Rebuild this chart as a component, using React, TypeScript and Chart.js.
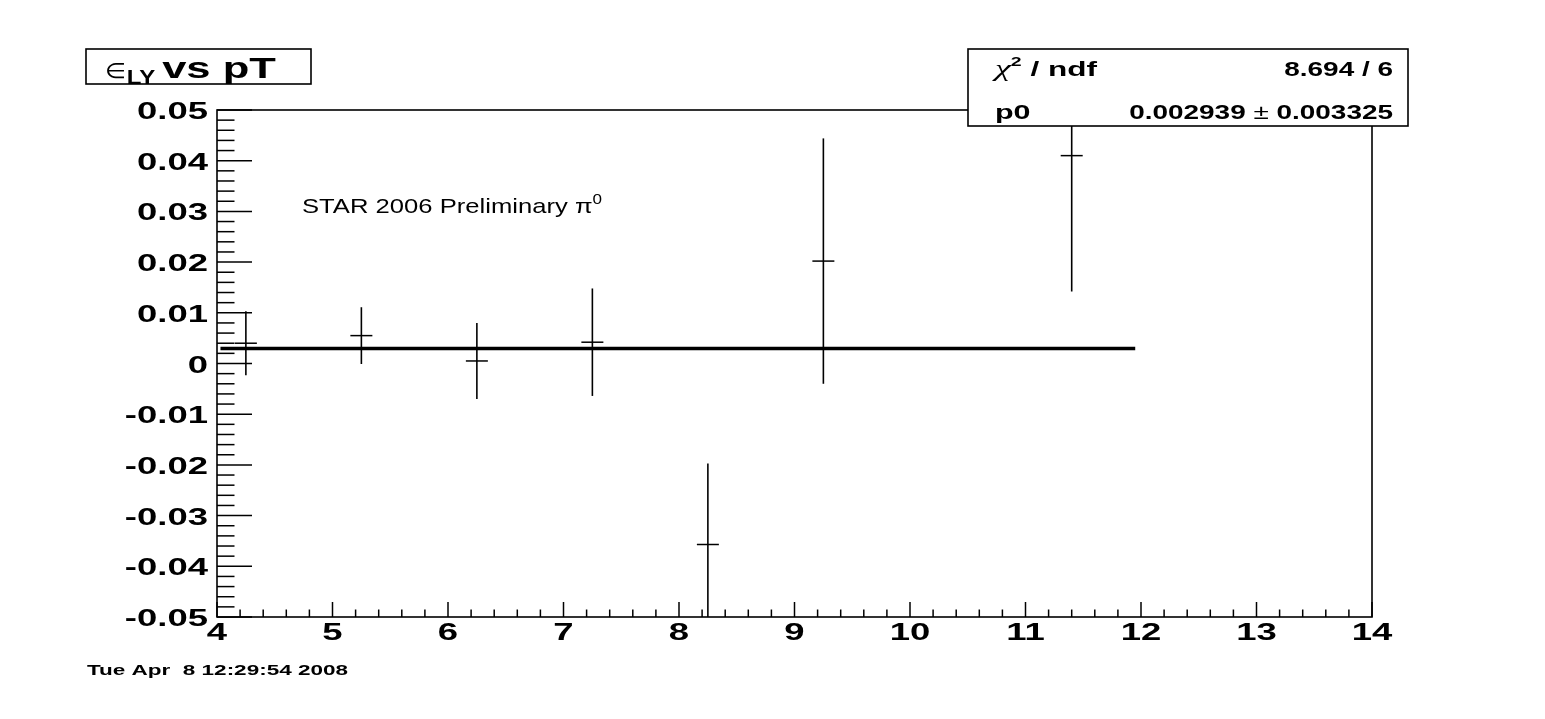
import React, { useEffect, useRef } from 'react';
import { Chart, registerables } from 'chart.js';

Chart.register(...registerables);

// ---- data ----
const pTValues = [4.25, 5.25, 6.25, 7.25, 8.25, 9.25, 11.4];
const epsilonLY = [0.004, 0.0055, 0.0005, 0.0042, -0.0357, 0.0202, 0.041];
const epsilonLYErr = [0.0063, 0.0056, 0.0075, 0.0106, 0.016, 0.0242, 0.0268];

const fitP0 = 0.002939;
const fitP0Err = 0.003325;
const fitChi2 = 8.694;
const fitNdf = 6;
const fitRange = [4.03, 11.95];

const xTickValues = [4, 5, 6, 7, 8, 9, 10, 11, 12, 13, 14];
const xTickLabels = ['4', '5', '6', '7', '8', '9', '10', '11', '12', '13', '14'];
const yTickValues = [0.05, 0.04, 0.03, 0.02, 0.01, 0, -0.01, -0.02, -0.03, -0.04, -0.05];
const yTickLabels = ['0.05', '0.04', '0.03', '0.02', '0.01', '0', '-0.01', '-0.02', '-0.03', '-0.04', '-0.05'];
const minorDivisions = 5;

const titleSymbol = '\u2208';
const titleSub = 'LY';
const titleRest = 'vs pT';
const annotationText = 'STAR 2006 Preliminary \u03c0';
const annotationSup = '0';
const footerText = 'Tue Apr  8 12:29:54 2008';

// ---- text helpers (ROOT output is horizontally stretched) ----
const FF = '"Liberation Sans", Arial, sans-serif';

type Part = { t: string; font: string; dy?: number; sx?: number; gap?: number };

function partWidth(ctx: CanvasRenderingContext2D, p: Part, sx: number) {
  ctx.font = p.font;
  return ctx.measureText(p.t).width * (p.sx ?? sx) + (p.gap || 0);
}

function drawParts(
  ctx: CanvasRenderingContext2D,
  parts: Part[],
  x: number,
  y: number,
  align: 'left' | 'right' | 'center',
  sx: number
) {
  let total = 0;
  for (const p of parts) total += partWidth(ctx, p, sx);
  let cx = x;
  if (align === 'right') cx = x - total;
  else if (align === 'center') cx = x - total / 2;
  for (const p of parts) {
    const s = p.sx ?? sx;
    cx += p.gap || 0;
    ctx.save();
    ctx.font = p.font;
    const w = ctx.measureText(p.t).width * s;
    ctx.translate(cx, y + (p.dy || 0));
    ctx.scale(s, 1);
    ctx.textAlign = 'left';
    ctx.textBaseline = 'alphabetic';
    ctx.fillStyle = '#000';
    ctx.fillText(p.t, 0, 0);
    ctx.restore();
    cx += w;
  }
}

const rootPlugin = {
  id: 'rootStyle',
  beforeDraw(chart: any) {
    const ctx = chart.ctx as CanvasRenderingContext2D;
    ctx.save();
    ctx.fillStyle = '#fff';
    ctx.fillRect(0, 0, chart.width, chart.height);
    ctx.restore();
  },
  afterDatasetsDraw(chart: any) {
    const ctx = chart.ctx as CanvasRenderingContext2D;
    const xs = chart.scales.x;
    const ys = chart.scales.y;
    const a = chart.chartArea;
    ctx.save();
    ctx.beginPath();
    ctx.rect(a.left, a.top, a.right - a.left, a.bottom - a.top);
    ctx.clip();
    ctx.strokeStyle = '#000';
    ctx.lineWidth = 1.6;
    for (let i = 0; i < pTValues.length; i++) {
      const px = xs.getPixelForValue(pTValues[i]);
      const y1 = ys.getPixelForValue(epsilonLY[i] + epsilonLYErr[i]);
      const y2 = ys.getPixelForValue(epsilonLY[i] - epsilonLYErr[i]);
      ctx.beginPath();
      ctx.moveTo(px, y1);
      ctx.lineTo(px, y2);
      ctx.stroke();
    }
    ctx.restore();
  },
  afterDraw(chart: any) {
    const ctx = chart.ctx as CanvasRenderingContext2D;
    const xs = chart.scales.x;
    const ys = chart.scales.y;
    const a = chart.chartArea;

    ctx.save();
    ctx.strokeStyle = '#000';
    ctx.lineWidth = 1.6;
    ctx.strokeRect(a.left, a.top, a.right - a.left, a.bottom - a.top);

    ctx.lineWidth = 1.5;
    const yMajorLen = 35;
    const yMinorLen = 17.5;
    for (let i = 0; i < yTickValues.length; i++) {
      const py = ys.getPixelForValue(yTickValues[i]);
      ctx.beginPath();
      ctx.moveTo(a.left, py);
      ctx.lineTo(a.left + yMajorLen, py);
      ctx.stroke();
      if (i < yTickValues.length - 1) {
        const step = (yTickValues[i + 1] - yTickValues[i]) / minorDivisions;
        for (let k = 1; k < minorDivisions; k++) {
          const my = ys.getPixelForValue(yTickValues[i] + step * k);
          ctx.beginPath();
          ctx.moveTo(a.left, my);
          ctx.lineTo(a.left + yMinorLen, my);
          ctx.stroke();
        }
      }
    }
    const xMajorLen = 15;
    const xMinorLen = 7.5;
    for (let i = 0; i < xTickValues.length; i++) {
      const px = xs.getPixelForValue(xTickValues[i]);
      ctx.beginPath();
      ctx.moveTo(px, a.bottom);
      ctx.lineTo(px, a.bottom - xMajorLen);
      ctx.stroke();
      if (i < xTickValues.length - 1) {
        const step = (xTickValues[i + 1] - xTickValues[i]) / minorDivisions;
        for (let k = 1; k < minorDivisions; k++) {
          const mx = xs.getPixelForValue(xTickValues[i] + step * k);
          ctx.beginPath();
          ctx.moveTo(mx, a.bottom);
          ctx.lineTo(mx, a.bottom - xMinorLen);
          ctx.stroke();
        }
      }
    }

    const tickFont = `bold 24px ${FF}`;
    for (let i = 0; i < yTickValues.length; i++) {
      const py = ys.getPixelForValue(yTickValues[i]);
      drawParts(ctx, [{ t: yTickLabels[i], font: tickFont }], a.left - 9, py + 9, 'right', 1.52);
    }
    for (let i = 0; i < xTickValues.length; i++) {
      const px = xs.getPixelForValue(xTickValues[i]);
      drawParts(ctx, [{ t: xTickLabels[i], font: tickFont }], px, a.bottom + 23, 'center', 1.52);
    }

    drawParts(
      ctx,
      [
        { t: annotationText, font: `21px ${FF}` },
        { t: annotationSup, font: `14px ${FF}`, dy: -9 },
      ],
      302,
      213,
      'left',
      1.22
    );

    drawParts(ctx, [{ t: footerText, font: `bold 15px ${FF}` }], 87, 675, 'left', 1.5);

    // title box
    ctx.fillStyle = '#fff';
    ctx.fillRect(86, 49, 225, 35);
    ctx.lineWidth = 1.6;
    ctx.strokeRect(86, 49, 225, 35);
    drawParts(
      ctx,
      [
        { t: titleSymbol, font: `21px ${FF}`, sx: 1.15 },
        { t: titleSub, font: `bold 20px ${FF}`, dy: 6, sx: 1.2, gap: 1 },
        { t: titleRest, font: `bold 29px ${FF}`, sx: 1.5, gap: 7 },
      ],
      105,
      78,
      'left',
      1.5
    );

    // stats box
    const bx = 968, by = 49, bw = 440, bh = 77;
    ctx.fillStyle = '#fff';
    ctx.fillRect(bx, by, bw, bh);
    ctx.lineWidth = 1.6;
    ctx.strokeRect(bx, by, bw, bh);
    const sFont = `bold 21px ${FF}`;
    drawParts(
      ctx,
      [
        { t: '\u03c7', font: `italic 24px "Liberation Serif", serif` },
        { t: '2', font: `bold 13px ${FF}`, dy: -10 },
        { t: ' / ndf', font: sFont },
      ],
      995,
      76,
      'left',
      1.5
    );
    drawParts(ctx, [{ t: `${fitChi2.toFixed(3)} / ${fitNdf}`, font: sFont }], 1393, 76, 'right', 1.33);
    drawParts(ctx, [{ t: 'p0', font: sFont }], 995, 119, 'left', 1.45);
    drawParts(
      ctx,
      [
        { t: fitP0.toFixed(6), font: sFont },
        { t: ' \u00b1 ', font: `21px ${FF}` },
        { t: fitP0Err.toFixed(6), font: sFont },
      ],
      1393,
      119,
      'right',
      1.33
    );
    ctx.restore();
  },
};

export default function App() {
  const ref = useRef<HTMLCanvasElement>(null);
  useEffect(() => {
    document.body.style.margin = '0';
    const canvas = ref.current;
    if (!canvas) return;
    const points = pTValues.map((x, i) => ({ x, y: epsilonLY[i] }));
    const fitLine = [
      { x: fitRange[0], y: fitP0 },
      { x: fitRange[1], y: fitP0 },
    ];
    const chart = new Chart(canvas, {
      type: 'scatter',
      data: {
        datasets: [
          {
            type: 'line',
            data: fitLine,
            borderColor: '#000',
            borderWidth: 3.5,
            pointRadius: 0,
            fill: false,
          } as any,
          {
            type: 'scatter',
            data: points,
            pointStyle: 'line',
            pointRadius: 11,
            pointHoverRadius: 11,
            borderColor: '#000',
            backgroundColor: '#000',
            borderWidth: 1.5,
            showLine: false,
          } as any,
        ],
      },
      options: {
        animation: false,
        responsive: false,
        devicePixelRatio: 1,
        events: [],
        layout: { padding: { left: 217, right: 173, top: 110, bottom: 102 } },
        scales: {
          x: { type: 'linear', min: 4, max: 14, display: false },
          y: { type: 'linear', min: -0.05, max: 0.05, display: false },
        },
        plugins: {
          legend: { display: false },
          tooltip: { enabled: false },
        },
      },
      plugins: [rootPlugin],
    });
    return () => chart.destroy();
  }, []);
  return (
    <div style={{ width: 1545, height: 719, background: '#fff' }}>
      <canvas ref={ref} width={1545} height={719} style={{ display: 'block' }} />
    </div>
  );
}
